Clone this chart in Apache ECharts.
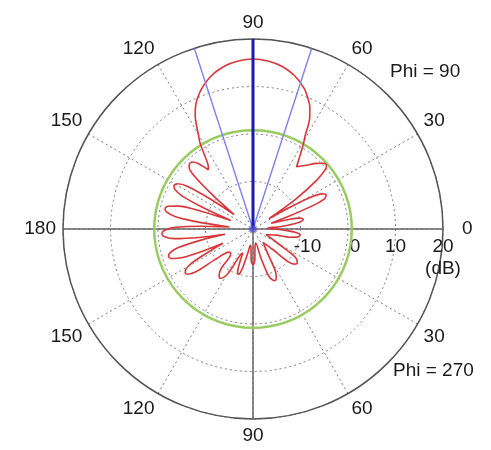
<!DOCTYPE html>
<html>
<head>
<meta charset="utf-8">
<script src="https://cdn.jsdelivr.net/npm/echarts@6/dist/echarts.min.js"></script>
<style>
  html, body { margin: 0; padding: 0; background: #fff; }
  #chart { width: 491px; height: 450px; }
</style>
</head>
<body>
<div id="chart"></div>
<script>
// ---- data ----
// radiation pattern (red): angle in degrees (0 = right, counter-clockwise) and level in dB
const patternAngles = [
  0, 3, 5, 7.5, 9, 11, 13, 15, 17.5,
  19.5, 21.5, 23, 25, 27, 29, 31, 33,
  35, 37.5, 39.5, 41, 43, 46, 50, 55, 57.5,
  59.5, 61, 62, 63, 65, 67, 70, 75, 80, 85, 90, 95, 100, 105, 110, 113, 115, 117, 118.5, 120, 121.7,
  123, 125, 127, 130, 132, 134, 136, 138, 140, 142.5,
  145, 147, 149, 151, 153, 155, 157, 159,
  161, 163, 165, 167, 169, 171, 173, 175,
  177, 179, 181, 183, 185, 187, 189, 190.5,
  192, 194, 196, 198, 200, 202, 204, 205.5,
  207, 209, 211, 213, 215, 217, 219, 224,
  228, 231, 233.5, 236, 238.5, 241, 244,
  247, 249, 250.5, 252, 253.5, 255, 258, 261,
  264, 266.5, 268, 270, 272, 273.5, 276, 281,
  285, 288, 290.5, 293, 295.5, 298, 301, 307,
  314, 317, 319.5, 322, 324.5, 327, 330, 337,
  345, 347.5, 349.5, 351, 353, 355, 357, 360
];
const patternDb = [
  -15.5, -17, -14, -11, -9.7, -9.2, -9.8, -12, -16,
  -12, -6, -3.6, -3, -3.7, -6.5, -12, -16,
  -9, -3, -0.2, 0.5, 0.3, -0.8, -2.5, -4, -1.5,
  1.0, 2.8, 4.8, 6.3, 8.3, 9.7, 11.5, 13.5, 14.8, 15.5, 15.8, 15.5, 14.8, 13.5, 11.5, 9.9, 8.6, 6.8, 5.0, 3.0, 1.2,
  -1, -3.5, -4.4, -2, -1.0, -0.8, -1.3, -3.5, -9, -15,
  -9, -3.5, -1.5, -1.0, -1.5, -3.5, -9, -15,
  -9, -3.5, -1.5, -1.0, -1.5, -3.5, -9, -15,
  -9, -3.3, -1.3, -0.8, -1.3, -3.3, -9, -14,
  -9, -3.8, -1.8, -1.3, -1.8, -3.8, -9, -13,
  -10, -5.3, -3.5, -3, -3.5, -5.3, -10, -13,
  -13, -9.5, -8, -7.5, -8, -9.5, -14,
  -14.5, -11.5, -10.3, -10, -10.3, -11.5, -15, -16.5,
  -16, -13.5, -12.8, -12.5, -12.8, -13.5, -16, -17,
  -14, -10, -8.6, -8.2, -8.6, -10, -14, -16.5,
  -14, -10, -8.6, -8.2, -8.6, -10, -14, -17,
  -15, -12, -10.6, -10.2, -10, -10.6, -12.5, -15.5
];
// reference level circle (green), dB
const refLevelDb = 0.8;
// beam marker directions (blue), degrees
const beamCenterAngle = 90;
const beamEdgeAngles = [72, 108];
// axis ticks
const radiusTicks = [-20, -10, 0, 10, 20];
const angleTickLabels = ['0', '30', '60', '90', '120', '150', '180', '150', '120', '90', '60', '30'];
const cutLabels = ['Phi = 90', 'Phi = 270'];

// ---- build chart ----
const chart = echarts.init(document.getElementById('chart'), null, { renderer: 'canvas' });
const rMin = radiusTicks[0], rMax = radiusTicks[radiusTicks.length - 1];
const FONT = '"Liberation Sans", Arial, sans-serif';
const FS = 19;

const patternData = patternAngles.map((a, i) => [patternDb[i], a]);
const circleData = [];
for (let a = 0; a <= 360; a += 5) circleData.push([refLevelDb, a]);

const lineSeries = (data, color, width, z, type) => ({
  type: 'line', coordinateSystem: 'polar', data, symbol: 'none', silent: true,
  z, lineStyle: { color, width, type: type || 'solid' }, animation: false
});

chart.setOption({
  animation: false,
  backgroundColor: '#ffffff',
  polar: { center: [253, 229], radius: 190 },
  angleAxis: {
    type: 'value', min: 0, max: 360, interval: 30, startAngle: 0, clockwise: false,
    axisLine: { show: true, lineStyle: { color: '#555', width: 1.5 } },
    axisTick: { show: false },
    splitLine: { show: true, lineStyle: { color: '#7a7a7a', width: 1, type: [2, 3] } },
    axisLabel: {
      margin: 7, color: '#1a1a1a', fontSize: FS, fontFamily: FONT,
      formatter: v => {
        if (v >= 360) return '';
        const t = angleTickLabels[Math.round(v / 30)];
        if (v === 0) return '{p|' + t + '}';
        return t;
      },
      rich: { p: { padding: [0, 0, 0, 12], fontSize: FS, fontFamily: FONT, color: '#1a1a1a' } }
    }
  },
  radiusAxis: {
    type: 'value', min: rMin, max: rMax, interval: 10,
    axisLine: { show: false },
    axisTick: { show: false },
    splitLine: { show: true, lineStyle: { color: '#7a7a7a', width: 1, type: [2, 3] } },
    axisLabel: {
      color: '#1a1a1a', fontSize: FS, fontFamily: FONT, margin: -7, verticalAlign: 'top', lineHeight: 22,
      formatter: v => {
        if (v === rMin) return '';
        if (v === rMax) return v + '\n(dB)';
        if (v === -10 || v === 0) return '{s|' + v + '}';
        return String(v);
      },
      rich: { s: { padding: [0, 0, 0, 14], fontSize: FS, fontFamily: FONT, color: '#1a1a1a', lineHeight: 22 } }
    }
  },
  graphic: [
    { type: 'text', left: 390, top: 62, style: { text: cutLabels[0], font: FS + 'px ' + FONT, fill: '#1a1a1a' } },
    { type: 'text', left: 393, top: 361, style: { text: cutLabels[1], font: FS + 'px ' + FONT, fill: '#1a1a1a' } }
  ],
  series: [
    lineSeries([[rMax, 0], [rMax, 180]], '#666', 1.5, 1),
    lineSeries([[rMax, 90], [rMax, 270]], '#666', 1.5, 1),
    lineSeries(circleData, '#98cc60', 2.5, 2),
    Object.assign(lineSeries(patternData, '#d8363a', 1.6, 3), { smooth: 0.3 }),
    lineSeries([[rMin, beamEdgeAngles[0]], [rMax, beamEdgeAngles[0]]], '#8080f0', 1.4, 4),
    lineSeries([[rMin, beamEdgeAngles[1]], [rMax, beamEdgeAngles[1]]], '#8080f0', 1.4, 4),
    lineSeries([[rMin, beamCenterAngle], [rMax, beamCenterAngle]], '#1c1ca8', 3, 5),
    { type: 'scatter', coordinateSystem: 'polar', data: [[rMin, 0]], symbolSize: 7, itemStyle: { color: '#4a4ae0' }, z: 6, silent: true }
  ]
});
</script>
</body>
</html>
